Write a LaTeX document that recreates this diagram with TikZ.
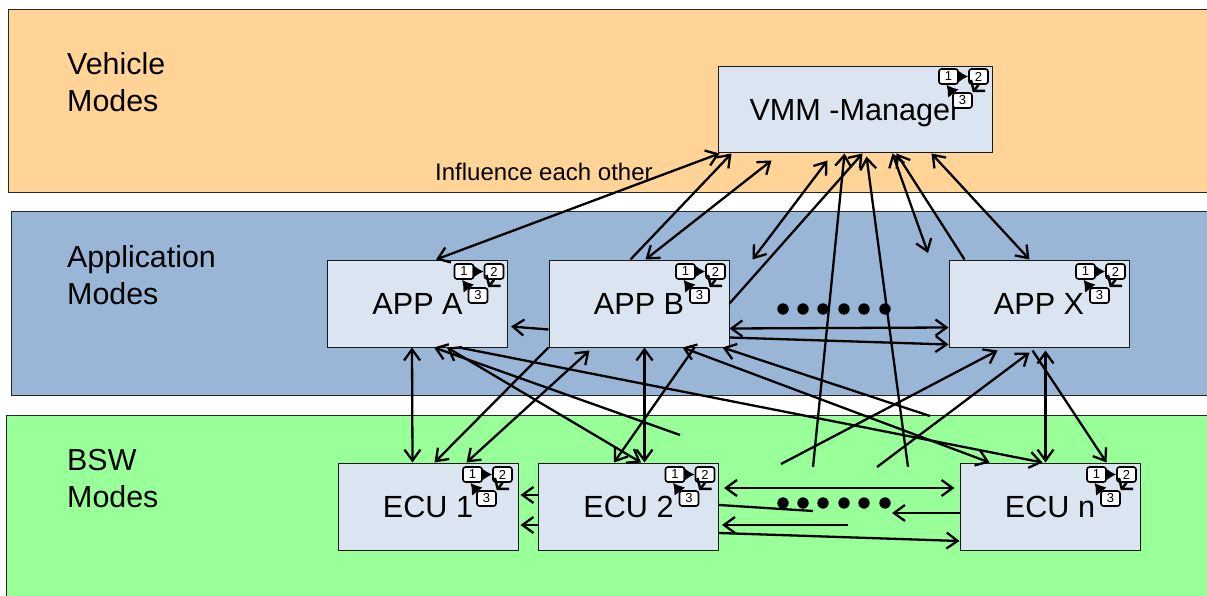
\documentclass[tikz,border=0pt]{standalone}
\usepackage{xcolor}
\usepackage{fontspec}
\setmainfont{Liberation Sans}
\usetikzlibrary{arrows.meta}

\definecolor{vehiclecol}{HTML}{FFD496}
\definecolor{appcol}{HTML}{9AB6D6}
\definecolor{bswcol}{HTML}{99FF99}
\definecolor{boxcol}{HTML}{DBE5F1}

\tikzset{
    band/.style={draw=black!85, line width=1pt, anchor=north west, minimum width=1215, minimum height=183},
    swbox/.style={draw=black!90, line width=1pt, fill=boxcol, minimum width=180, minimum height=87, text depth=0pt, font=\fontsize{30.6}{30.6}\selectfont},
    bandtext/.style={anchor=west, align=left, inner sep=0pt, font=\fontsize{30.4}{37}\selectfont},
    conn/.style={line width=2.3pt, >={Straight Barb[length=11,width=16,line width=2.3pt]}},
    statenode/.style={draw=black, line width=1.6pt, fill=white, rounded corners=2.5, minimum width=19, minimum height=15, inner sep=0pt, font=\fontsize{13}{13}\selectfont},
    flow/.style={line width=2.5pt, -{Latex[length=11,width=14]}},
    flowbarb/.style={line width=2.5pt, -{Straight Barb[length=7,width=18,line width=2.5pt]}},
    modestate/.pic={
        \node[statenode] (-one) at (-44,12) {1};
        \node[statenode] (-two) at (-14,12) {2};
        \node[statenode] (-three) at (-30,36) {3};
        \draw[flow] (-one) -- (-two.west);
        \draw[flowbarb] (-two.south) -- (-three.north east);
        \draw[flow] (-three.north west) -- ([xshift=-2]-one.south);
    }
}

\begin{document}
\begin{tikzpicture}[x=1pt,y=-1pt]
    \path[use as bounding box, clip] (0,0) rectangle (1207,596);

    % layers
    \node[band, fill=vehiclecol] (vehicle) at (8,9) {};
    \node[band, fill=appcol, minimum height=184] (application) at (11,211) {};
    \node[band, fill=bswcol, minimum height=200] (bsw) at (6,415) {};

    \node[bandtext] (vehicletext) at (67,82) {Vehicle\\Modes};
    \node[bandtext] (applicationtext) at (67,275) {Application\\Modes};
    \node[bandtext] (bswtext) at (67,479) {BSW\\Modes};
    \node[anchor=west, inner sep=0pt, font=\fontsize{24}{24}\selectfont] (influence) at (435,172) {Influence each other};

    % boxes
    \node[swbox, minimum width=274, minimum height=86] (vmm) at (855,110) {VMM -Manager};
    \node[swbox] (appa) at (417.5,303.5) {APP A};
    \node[swbox] (appb) at (639,303.5) {APP B};
    \node[swbox] (appx) at (1039,303.5) {APP X};
    \node[swbox] (ecua) at (428,506.5) {ECU 1};
    \node[swbox] (ecub) at (628.5,506.5) {ECU 2};
    \node[swbox] (ecun) at (1050,506.5) {ECU n};

    % loose ends
    \coordinate (vmmfree) at (928,253);
    \coordinate (upa) at (813,467);
    \coordinate (upb) at (908,467);
    \coordinate (upc) at (781,464);
    \coordinate (upd) at (877,467);
    \coordinate (backa) at (680,435);
    \coordinate (backb) at (930,416);
    \coordinate (stopa) at (892,513);
    \coordinate (stopb) at (813,511);
    \coordinate (stopc) at (848,525);

    % to the manager
    \draw[conn, <->] ([xshift=109]appa.north west) -- ([xshift=2]vmm.south west);
    \draw[conn, ->] ([xshift=82]appb.north west) -- ([xshift=14]vmm.south west);
    \draw[conn, <->] ([xshift=97]appb.north west) -- ([shift={(54,7)}]vmm.south west);
    \draw[conn, <->] ([xshift=204]appb.north west) -- ([shift={(110,7)}]vmm.south west);
    \draw[conn, ->] (appb.east) -- ([xshift=145]vmm.south west);
    \draw[conn, ->] (upa) -- ([xshift=127]vmm.south west);
    \draw[conn, ->] (upb) -- ([shift={(149,3)}]vmm.south west);
    \draw[conn, <->] ([xshift=175]vmm.south west) -- (vmmfree);
    \draw[conn, ->] ([xshift=16]appx.north west) -- ([xshift=179]vmm.south west);
    \draw[conn, <->] ([xshift=81]appx.north west) -- ([xshift=214]vmm.south west);

    % apps to apps
    \draw[conn, ->] ([yshift=-26]appb.west) -- ([shift={(3,23)}]appa.east);
    \draw[conn, <->] ([yshift=-25]appb.east) -- ([yshift=-24]appx.west);
    \draw[conn, ->] ([yshift=-34]appb.east) -- ([yshift=-41]appx.west);

    % apps to ecus
    \draw[conn, <->] ([xshift=85]appa.south west) -- ([xshift=75]ecua.north west);
    \draw[conn, ->] (appb.south west) -- ([xshift=97]ecua.north west);
    \draw[conn, <->] ([shift={(41,3)}]appb.south west) -- ([xshift=129]ecua.north west);
    \draw[conn, <->] ([xshift=96]appb.south west) -- ([xshift=106.5]ecub.north west);
    \draw[conn, ->] ([xshift=146]appb.south west) -- ([xshift=76]ecub.north west);
    \draw[conn, <->] ([xshift=120]appa.south west) -- ([xshift=103]ecub.north west);
    \draw[conn, ->] (backa) -- ([xshift=107]appa.south west);
    \draw[conn, ->] ([xshift=132]appa.south west) -- ([xshift=83]ecun.north west);
    \draw[conn, <->] ([xshift=134]appb.south west) -- ([xshift=30]ecun.north west);
    \draw[conn, ->] (backb) -- ([xshift=174]appb.south west);
    \draw[conn, ->] (upc) -- ([shift={(49,3)}]appx.south west);
    \draw[conn, ->] (upd) -- ([shift={(81,5)}]appx.south west);
    \draw[conn, ->] ([shift={(84,3)}]appx.south west) -- ([xshift=147]ecun.north west);
    \draw[conn, <->] ([shift={(97,3)}]appx.south west) -- ([xshift=86]ecun.north west);

    % ecus to ecus
    \draw[conn, ->] ([yshift=11.5]ecub.west) -- ([yshift=11.5,xshift=2]ecua.east);
    \draw[conn, ->] ([yshift=-18.5]ecub.west) -- ([yshift=-18.5,xshift=2]ecua.east);
    \draw[conn, <->] ([shift={(5,-18.5)}]ecub.east) -- ([shift={(-5,-18.5)}]ecun.west);
    \draw[conn, ->] ([yshift=-6.5]ecun.west) -- (stopa);
    \draw[conn] ([yshift=1.5]ecub.east) -- (stopb);
    \draw[conn, ->] (stopc) -- ([shift={(3,18.5)}]ecub.east);
    \draw[conn, ->] ([yshift=-26.5]ecub.east) -- ([yshift=-34.5]ecun.west);

    % dots
    \foreach \dotx in {783,803,823,844,864,885} {
        \fill (\dotx,309) circle (5.7);
        \fill (\dotx,503) circle (5.7);
    }

    % mode states
    \pic (vmmstate) at ([yshift=2]vmm.north east) {modestate};
    \pic (appastate) at (appa.north east) {modestate};
    \pic (appbstate) at (appb.north east) {modestate};
    \pic (appxstate) at (appx.north east) {modestate};
    \pic (ecuastate) at ([xshift=-2]ecua.north east) {modestate};
    \pic (ecubstate) at (ecub.north east) {modestate};
    \pic (ecunstate) at (ecun.north east) {modestate};
\end{tikzpicture}
\end{document}
